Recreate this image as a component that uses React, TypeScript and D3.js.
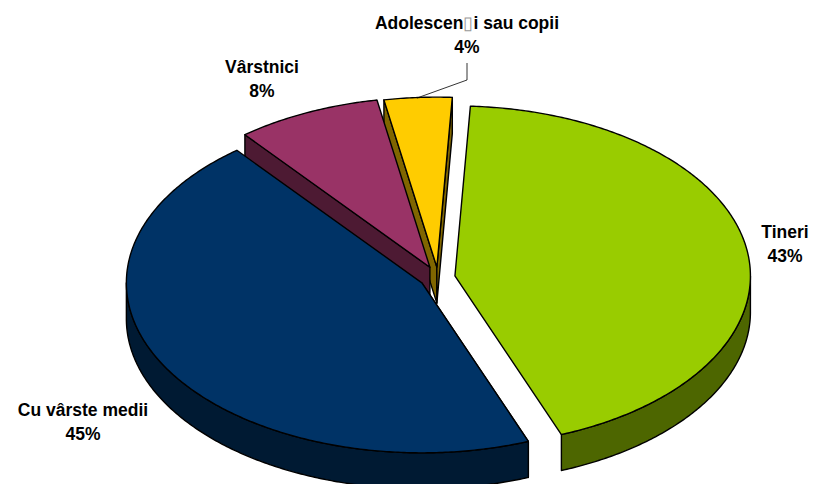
import React from "react";
import * as d3 from "d3";

const categories = ["Tineri", "Cu vârste medii", "Vârstnici", "Adolescenți sau copii"];
const percentLabels = ["43%", "45%", "8%", "4%"];
const values = [43.3, 45.1, 7.9, 3.7];
const explosions = [0.058, 0.063, 0.066, 0.061];
const topColors = ["#99CC00", "#003366", "#993366", "#FFCC00"];
const sideColors = ["#4D6600", "#001A33", "#4D1A33", "#806600"];
// back-to-front painting order (indices into the arrays above)
const paintOrder = [3, 2, 0, 1];

const W = 814, H = 484;
const CX = 438, CY = 277.5, RX = 295.5, RY = 170, DEPTH = 36;
const START = (3 * Math.PI) / 180;
const TAU = Math.PI * 2;

const sx = d3.scaleLinear().domain([-1, 1]).range([-RX, RX]);
const sy = d3.scaleLinear().domain([-1, 1]).range([RY, -RY]);

type P = [number, number];
const rim = (a: number, ox: number, oy: number): P => [ox + sx(Math.sin(a)), oy + sy(Math.cos(a))];
const sweep = (a0: number, a1: number, ox: number, oy: number): P[] => {
  const n = Math.max(2, Math.ceil(Math.abs(a1 - a0) / 0.01));
  return d3.range(n + 1).map((i) => rim(a0 + ((a1 - a0) * i) / n, ox, oy));
};
const line = d3.line<P>().x((d) => d[0]).y((d) => d[1]);
const closed = (pts: P[]) => line(pts) + "Z";

const arcs = d3.pie<number>().sort(null).startAngle(START).endAngle(START + TAU)(values);

function Slice({ index }: { index: number }) {
  const arc = arcs[index];
  const { startAngle: a0, endAngle: a1 } = arc;
  const mid = (a0 + a1) / 2;
  const e = explosions[index];
  const ox = CX + e * sx(Math.sin(mid));
  const oy = CY + e * sy(Math.cos(mid));
  const apex: P = [ox, oy];
  const apexLow: P = [ox, oy + DEPTH];
  const walls: string[] = [];
  // cut faces: visible only when their outward normal points toward the viewer
  const startPt = rim(a0, ox, oy);
  const endPt = rim(a1, ox, oy);
  if (startPt[0] < ox || Math.sin(a0) < 0) {
    if (startPt[0] - ox < 0) {
      walls.push(closed([apex, startPt, [startPt[0], startPt[1] + DEPTH], apexLow]));
    }
  }
  if (Math.sin(a0) > 0 && Math.cos(a0) < 0) {
    walls.push(closed([apex, startPt, [startPt[0], startPt[1] + DEPTH], apexLow]));
  }
  if (Math.sin(a1) > 0 && Math.cos(a1) > 0) {
    walls.push(closed([apex, endPt, [endPt[0], endPt[1] + DEPTH], apexLow]));
  }
  // outer wall: the part of the rim on the front half of the ellipse
  const lo = Math.max(a0, Math.PI / 2);
  const hi = Math.min(a1, (3 * Math.PI) / 2);
  if (hi > lo) {
    const upper = sweep(lo, hi, ox, oy);
    const lower = sweep(hi, lo, ox, oy + DEPTH);
    walls.push(closed([...upper, ...lower]));
  }
  const top = closed([apex, ...sweep(a0, a1, ox, oy)]);
  return (
    <g stroke="#000" strokeWidth={1.4} strokeLinejoin="round">
      {walls.map((d, i) => (
        <path key={i} d={d} fill={sideColors[index]} />
      ))}
      <path d={top} fill={topColors[index]} />
    </g>
  );
}

const labelStyle = { fontFamily: "'Liberation Sans', Arial, sans-serif", fontWeight: 700, fontSize: 17.5 };

function Label({ x, y, name, pct }: { x: number; y: number; name: React.ReactNode; pct: string }) {
  return (
    <text textAnchor="middle" style={labelStyle} fill="#000">
      <tspan x={x} y={y}>{name}</tspan>
      <tspan x={x} y={y + 24}>{pct}</tspan>
    </text>
  );
}

export default function App() {
  return (
    <svg width={W} height={H} style={{ position: "absolute", left: 0, top: 0, background: "#fff" }}>
      {paintOrder.map((i) => (
        <Slice key={i} index={i} />
      ))}
      <path d={line([[467, 63], [467, 80], [417, 98]])!} fill="none" stroke="#000" strokeWidth={0.8} />
      <Label x={785} y={238} name={categories[0]} pct={percentLabels[0]} />
      <Label x={83} y={416} name={categories[1]} pct={percentLabels[1]} />
      <Label x={262} y={73} name={categories[2]} pct={percentLabels[2]} />
      <Label
        x={467}
        y={29}
        name={<>Adolescen<tspan fill="#999" fontWeight={400}>▯</tspan>i sau copii</>}
        pct={percentLabels[3]}
      />
    </svg>
  );
}
